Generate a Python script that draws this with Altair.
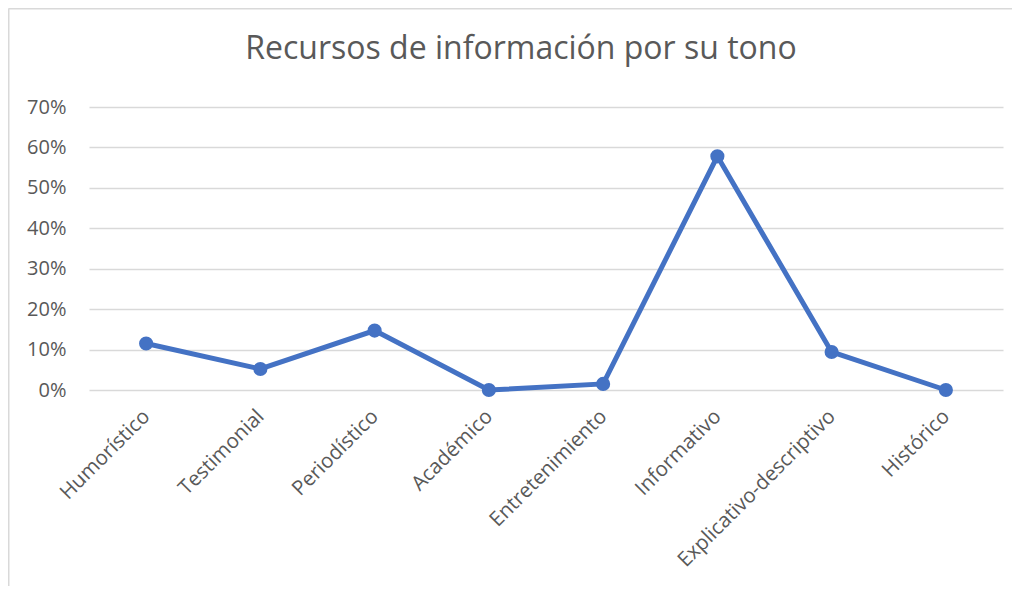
import altair as alt
import pandas as pd

categories = ["Humorístico", "Testimonial", "Periodístico", "Académico",
              "Entretenimiento", "Informativo", "Explicativo-descriptivo", "Histórico"]
values = [0.115, 0.052, 0.147, 0.0, 0.015, 0.578, 0.094, 0.0]
y_ticks = [0.0, 0.1, 0.2, 0.3, 0.4, 0.5, 0.6, 0.7]

df = pd.DataFrame({"tono": categories, "pct": values})

FONT = "Open Sans"
GREY = "#595959"
BLUE = "#4472C4"

x_enc = alt.X("tono:N", sort=categories, title=None,
              scale=alt.Scale(type="point", padding=0.5),
              axis=alt.Axis(labelAngle=-45, labelFontSize=20.5, labelColor=GREY,
                            labelFont=FONT, ticks=False, domain=False, grid=False,
                            labelAlign="right", labelBaseline="middle",
                            labelPadding=23, labelLimit=0))
y_enc = alt.Y("pct:Q", title=None,
              scale=alt.Scale(domain=[0, 0.7], nice=False),
              axis=alt.Axis(values=y_ticks, format=".0%", labelFontSize=20,
                            labelColor=GREY, labelFont=FONT, ticks=False,
                            domain=False, grid=True, gridColor="#d9d9d9",
                            gridWidth=1.5, labelPadding=23))

base = alt.Chart(df).encode(x=x_enc, y=y_enc)
line = base.mark_line(color=BLUE, strokeWidth=5)
pts = base.mark_point(color=BLUE, filled=True, size=200, opacity=1)

frame_df = pd.DataFrame({"k": [0]})
frame_left = alt.Chart(frame_df).mark_rule(color="#d9d9d9", strokeWidth=2).encode(
    x=alt.value(-80.5), y=alt.value(-98.5), y2=alt.value(520))
frame_top = alt.Chart(frame_df).mark_rule(color="#d9d9d9", strokeWidth=2).encode(
    x=alt.value(-80.5), x2=alt.value(960), y=alt.value(-98.5))

chart = alt.layer(frame_left, frame_top, line, pts).properties(
    width=914, height=283,
    title=alt.TitleParams("Recursos de información por su tono", font=FONT,
                          fontSize=32, fontWeight="normal", color=GREY,
                          anchor="middle", dx=-25, baseline="alphabetic",
                          offset=-83),
    autosize=alt.AutoSizeParams(type="none"),
    padding={"left": 81, "top": 99, "right": 9, "bottom": 196},
).configure(background="white").configure_view(stroke=None)

chart.save("out.html", embed_options={"renderer": "svg", "actions": False})
